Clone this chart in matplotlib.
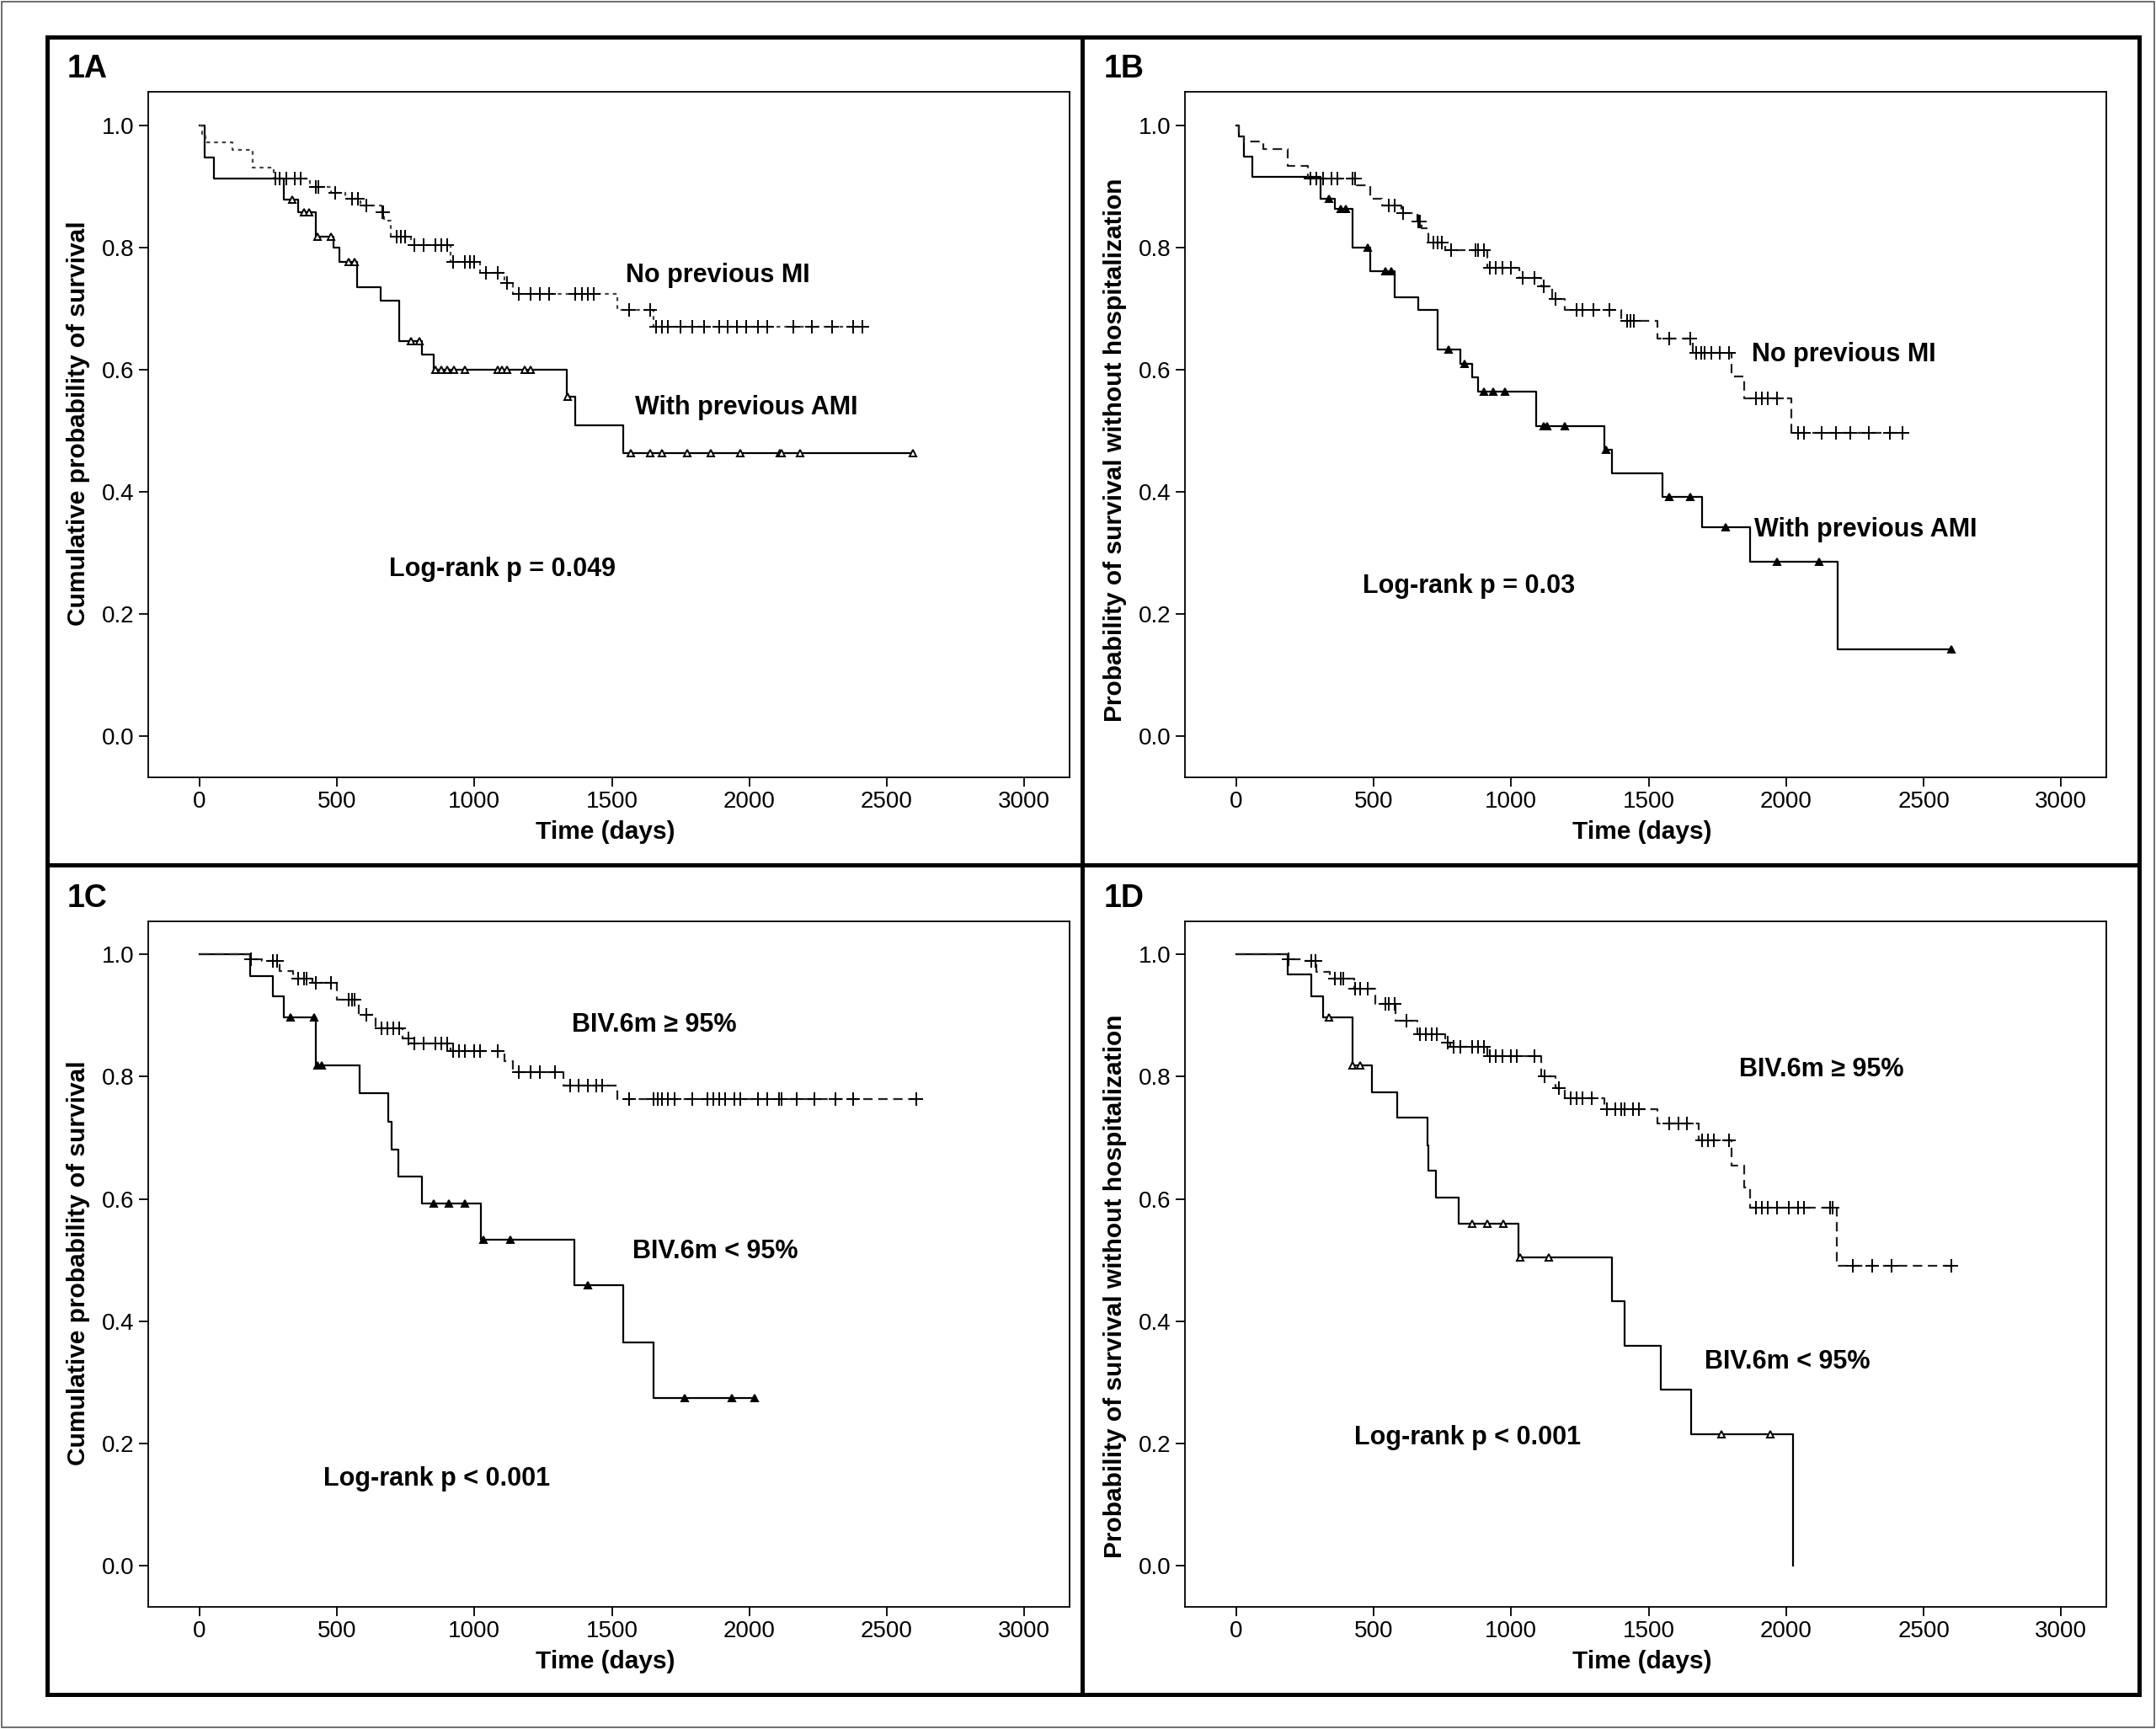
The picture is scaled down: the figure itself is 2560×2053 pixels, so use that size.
import numpy as np
import matplotlib.pyplot as plt
from matplotlib.patches import Rectangle

plt.rcParams['font.family'] = ['Liberation Sans Narrow', 'Liberation Sans', 'DejaVu Sans']

# ---- panel 1A : survival, previous MI ----
a_ami_t = [20, 54, 308, 360, 424, 489, 510, 575, 658, 728, 808, 851, 1336, 1368, 1542]
a_ami_s = [0.947, 0.912, 0.878, 0.857, 0.818, 0.800, 0.776, 0.735, 0.712, 0.647, 0.624, 0.600, 0.555, 0.509, 0.463]
a_ami_c = [337, 380, 400, 430, 478, 543, 565, 770, 800, 858, 880, 902, 925, 967, 1086, 1100, 1118, 1184, 1205,
           1340, 1570, 1640, 1683, 1775, 1861, 1966, 2110, 2118, 2183, 2596]
a_nomi_t = [11, 22, 119, 195, 271, 402, 478, 532, 586, 662, 673, 695, 771, 912, 1021, 1108, 1140, 1520, 1651]
a_nomi_s = [0.986, 0.972, 0.960, 0.931, 0.912, 0.899, 0.889, 0.880, 0.869, 0.857, 0.843, 0.818, 0.804, 0.776,
            0.758, 0.742, 0.724, 0.698, 0.670]
a_nomi_c = [275, 293, 315, 347, 369, 424, 434, 493, 554, 576, 608, 665, 669, 717, 732, 749, 782, 815, 858, 880, 901,
            923, 967, 984, 999, 1043, 1086, 1119, 1162, 1205, 1238, 1271, 1368, 1390, 1412, 1434, 1564, 1640,
            1662, 1683, 1705, 1749, 1792, 1835, 1890, 1922, 1955, 1987, 2031, 2064, 2161, 2226, 2302, 2378, 2411]

# ---- panel 1B : survival without hospitalization, previous MI ----
b_ami_t = [11, 28, 58, 308, 358, 424, 489, 575, 662, 732, 815, 858, 880, 1092, 1340, 1368, 1549, 1694, 1868, 2187]
b_ami_s = [0.982, 0.949, 0.915, 0.880, 0.863, 0.799, 0.761, 0.718, 0.697, 0.632, 0.609, 0.587, 0.563, 0.507,
           0.468, 0.430, 0.391, 0.342, 0.285, 0.142]
b_ami_c = [337, 380, 400, 478, 543, 565, 771, 830, 902, 934, 977, 1119, 1130, 1195, 1345, 1575, 1650, 1781,
           1966, 2120, 2602]
b_nomi_t = [11, 28, 98, 189, 261, 440, 489, 530, 600, 660, 673, 700, 760, 912, 1030, 1110, 1150, 1195, 1400,
            1531, 1662, 1803, 1846, 2020]
b_nomi_s = [0.982, 0.973, 0.961, 0.933, 0.912, 0.901, 0.880, 0.868, 0.856, 0.842, 0.831, 0.808, 0.796, 0.766,
            0.750, 0.736, 0.716, 0.697, 0.680, 0.651, 0.627, 0.588, 0.553, 0.496]
b_nomi_c = [271, 293, 315, 347, 369, 424, 434, 554, 576, 608, 662, 669, 717, 732, 749, 782, 869, 880, 901, 923,
            945, 967, 999, 1043, 1086, 1119, 1162, 1238, 1260, 1300, 1358, 1423, 1434, 1445, 1575, 1651, 1673,
            1690, 1705, 1727, 1760, 1792, 1890, 1912, 1933, 1966, 2042, 2064, 2130, 2180, 2232, 2302, 2378, 2422]

# ---- panel 1C : survival, BiV pacing at 6 months ----
c_low_t = [185, 267, 308, 424, 582, 688, 700, 723, 808, 1025, 1364, 1542, 1651]
c_low_s = [0.965, 0.931, 0.897, 0.818, 0.773, 0.726, 0.681, 0.636, 0.592, 0.533, 0.458, 0.365, 0.274]
c_low_c = [332, 417, 430, 445, 852, 906, 967, 1032, 1130, 1412, 1764, 1937, 2020]
c_high_t = [185, 228, 293, 340, 410, 500, 580, 641, 740, 771, 912, 1108, 1140, 1325, 1520]
c_high_s = [0.993, 0.989, 0.973, 0.961, 0.954, 0.926, 0.902, 0.879, 0.863, 0.855, 0.842, 0.825, 0.808, 0.786, 0.764]
c_high_c = [187, 267, 282, 358, 380, 391, 424, 478, 543, 554, 565, 608, 662, 684, 706, 728, 760, 782, 815, 858,
            880, 901, 923, 945, 967, 999, 1021, 1086, 1162, 1205, 1238, 1292, 1347, 1379, 1412, 1444, 1466,
            1564, 1651, 1666, 1683, 1705, 1727, 1792, 1846, 1868, 1890, 1911, 1944, 1966, 2031, 2064, 2107,
            2118, 2172, 2237, 2313, 2378, 2606]

# ---- panel 1D : survival without hospitalization, BiV pacing ----
d_low_t = [189, 272, 315, 424, 495, 586, 695, 700, 728, 810, 1027, 1368, 1414, 1544, 1655, 2024]
d_low_s = [0.967, 0.931, 0.897, 0.818, 0.775, 0.733, 0.688, 0.646, 0.602, 0.560, 0.504, 0.433, 0.360, 0.288,
           0.215, 0.0]
d_low_c = [337, 424, 450, 858, 912, 973, 1032, 1136, 1764, 1942]
d_high_t = [189, 240, 293, 340, 430, 506, 580, 658, 760, 780, 912, 1108, 1162, 1195, 1340, 1531, 1683, 1803,
            1846, 1868, 2183]
d_high_s = [0.993, 0.989, 0.972, 0.961, 0.944, 0.919, 0.891, 0.870, 0.856, 0.849, 0.834, 0.801, 0.782, 0.765,
            0.747, 0.724, 0.696, 0.654, 0.618, 0.586, 0.490]
d_high_c = [191, 272, 289, 358, 380, 391, 434, 450, 478, 543, 554, 576, 619, 669, 690, 710, 730, 770, 790, 815,
            858, 880, 901, 923, 945, 967, 999, 1021, 1086, 1122, 1173, 1217, 1238, 1260, 1292, 1347, 1379, 1401,
            1412, 1444, 1466, 1575, 1608, 1640, 1694, 1716, 1738, 1792, 1890, 1912, 1933, 1966, 2009, 2042, 2064,
            2161, 2170, 2242, 2312, 2382, 2602]

x_ticks = [0, 500, 1000, 1500, 2000, 2500, 3000]
y_ticks = [0.0, 0.2, 0.4, 0.6, 0.8, 1.0]


def km_curve(ax, ev_t, ev_s, cens, ls, color, marker, ms, mfc):
    # step function built from event times, extended to the last follow-up
    t = np.r_[0, ev_t]
    s = np.r_[1.0, ev_s]
    t_end = max(max(cens), ev_t[-1])
    ax.step(np.r_[t, t_end], np.r_[s, s[-1]], where='post', color=color, lw=1.6, ls=ls)
    # censor marks sit on the curve
    idx = np.searchsorted(ev_t, cens, side='right')
    ax.plot(cens, s[idx], ls='none', marker=marker, ms=ms, color='black', mfc=mfc, mew=1.4)


W, H = 1568.0, 1257.0


def fx(x):
    return x / W


def fy(y):
    return 1 - y / H


fig = plt.figure(figsize=(25.6, 20.53), dpi=100)

panels = [
    ('1A', 108, 67, 'Cumulative probability of survival', 308,
     (a_ami_t, a_ami_s, a_ami_c), (a_nomi_t, a_nomi_s, a_nomi_c), (0, (2, 2.2)), '#444444', 'white',
     [('No previous MI', 1550, 0.754), ('With previous AMI', 1585, 0.538), ('Log-rank p = 0.049', 690, 0.273)]),
    ('1B', 862, 67, 'Probability of survival without hospitalization', 327,
     (b_ami_t, b_ami_s, b_ami_c), (b_nomi_t, b_nomi_s, b_nomi_c), (0, (5, 3)), '#222222', 'black',
     [('No previous MI', 1875, 0.624), ('With previous AMI', 1885, 0.338), ('Log-rank p = 0.03', 460, 0.245)]),
    ('1C', 108, 670, 'Cumulative probability of survival', 918,
     (c_low_t, c_low_s, c_low_c), (c_high_t, c_high_s, c_high_c), (0, (5, 3)), '#222222', 'black',
     [('BIV.6m \u2265 95%', 1355, 0.885), ('BIV.6m < 95%', 1575, 0.514), ('Log-rank p < 0.001', 450, 0.142)]),
    ('1D', 862, 670, 'Probability of survival without hospitalization', 935,
     (d_low_t, d_low_s, d_low_c), (d_high_t, d_high_s, d_high_c), (0, (5, 3)), '#222222', 'white',
     [('BIV.6m \u2265 95%', 1830, 0.811), ('BIV.6m < 95%', 1705, 0.333), ('Log-rank p < 0.001', 430, 0.209)]),
]

aw, ah = 670, 498
for tag, px, py, ylab, ylab_y, solid, dashed, dls, dcol, tri_fc, notes in panels:
    ax = fig.add_axes([fx(px), fy(py + ah), aw / W, ah / H])
    km_curve(ax, solid[0], solid[1], solid[2], '-', 'black', '^', 6, tri_fc)
    km_curve(ax, dashed[0], dashed[1], dashed[2], dls, dcol, '+', 11, 'none')
    ax.set_xlim(-185, 3165)
    ax.set_ylim(-0.0676, 1.054)
    ax.set_xticks(x_ticks)
    ax.set_yticks(y_ticks)
    ax.set_yticklabels(['%.1f' % v for v in y_ticks])
    ax.tick_params(direction='out', length=8, width=1.3, labelsize=20, pad=4)
    for sp in ax.spines.values():
        sp.set_linewidth(1.3)
    for txt, tx, ty in notes:
        ax.text(tx, ty, txt, fontsize=22, fontweight='bold', ha='left', va='center')
    # panel tag, axis titles
    cx = px - 59
    fig.text(fx(cx), fy(py - 17), tag, fontsize=27, fontweight='bold', ha='left', va='center')
    fig.text(fx(px - 51), fy(ylab_y), ylab, fontsize=21.5, fontweight='bold', rotation=90,
             ha='center', va='center')
    fig.text(fx(px + 332), fy(py + ah + 40), 'Time (days)', fontsize=21.5, fontweight='bold',
             ha='center', va='center')

# frame around the four panels
fig.add_artist(Rectangle((fx(34), fy(1232)), fx(1556) - fx(34), fy(27) - fy(1232), transform=fig.transFigure,
                         fill=False, lw=3.6, ec='black'))
fig.add_artist(plt.Line2D([fx(787), fx(787)], [fy(27), fy(1232)], transform=fig.transFigure, lw=3.6, color='black'))
fig.add_artist(plt.Line2D([fx(34), fx(1556)], [fy(629), fy(629)], transform=fig.transFigure, lw=3.6, color='black'))
fig.add_artist(Rectangle((0.0008, 0.001), 0.9984, 0.998, transform=fig.transFigure, fill=False, lw=1.2,
                         ec='#555555'))

fig.savefig('out.png', dpi=100)
